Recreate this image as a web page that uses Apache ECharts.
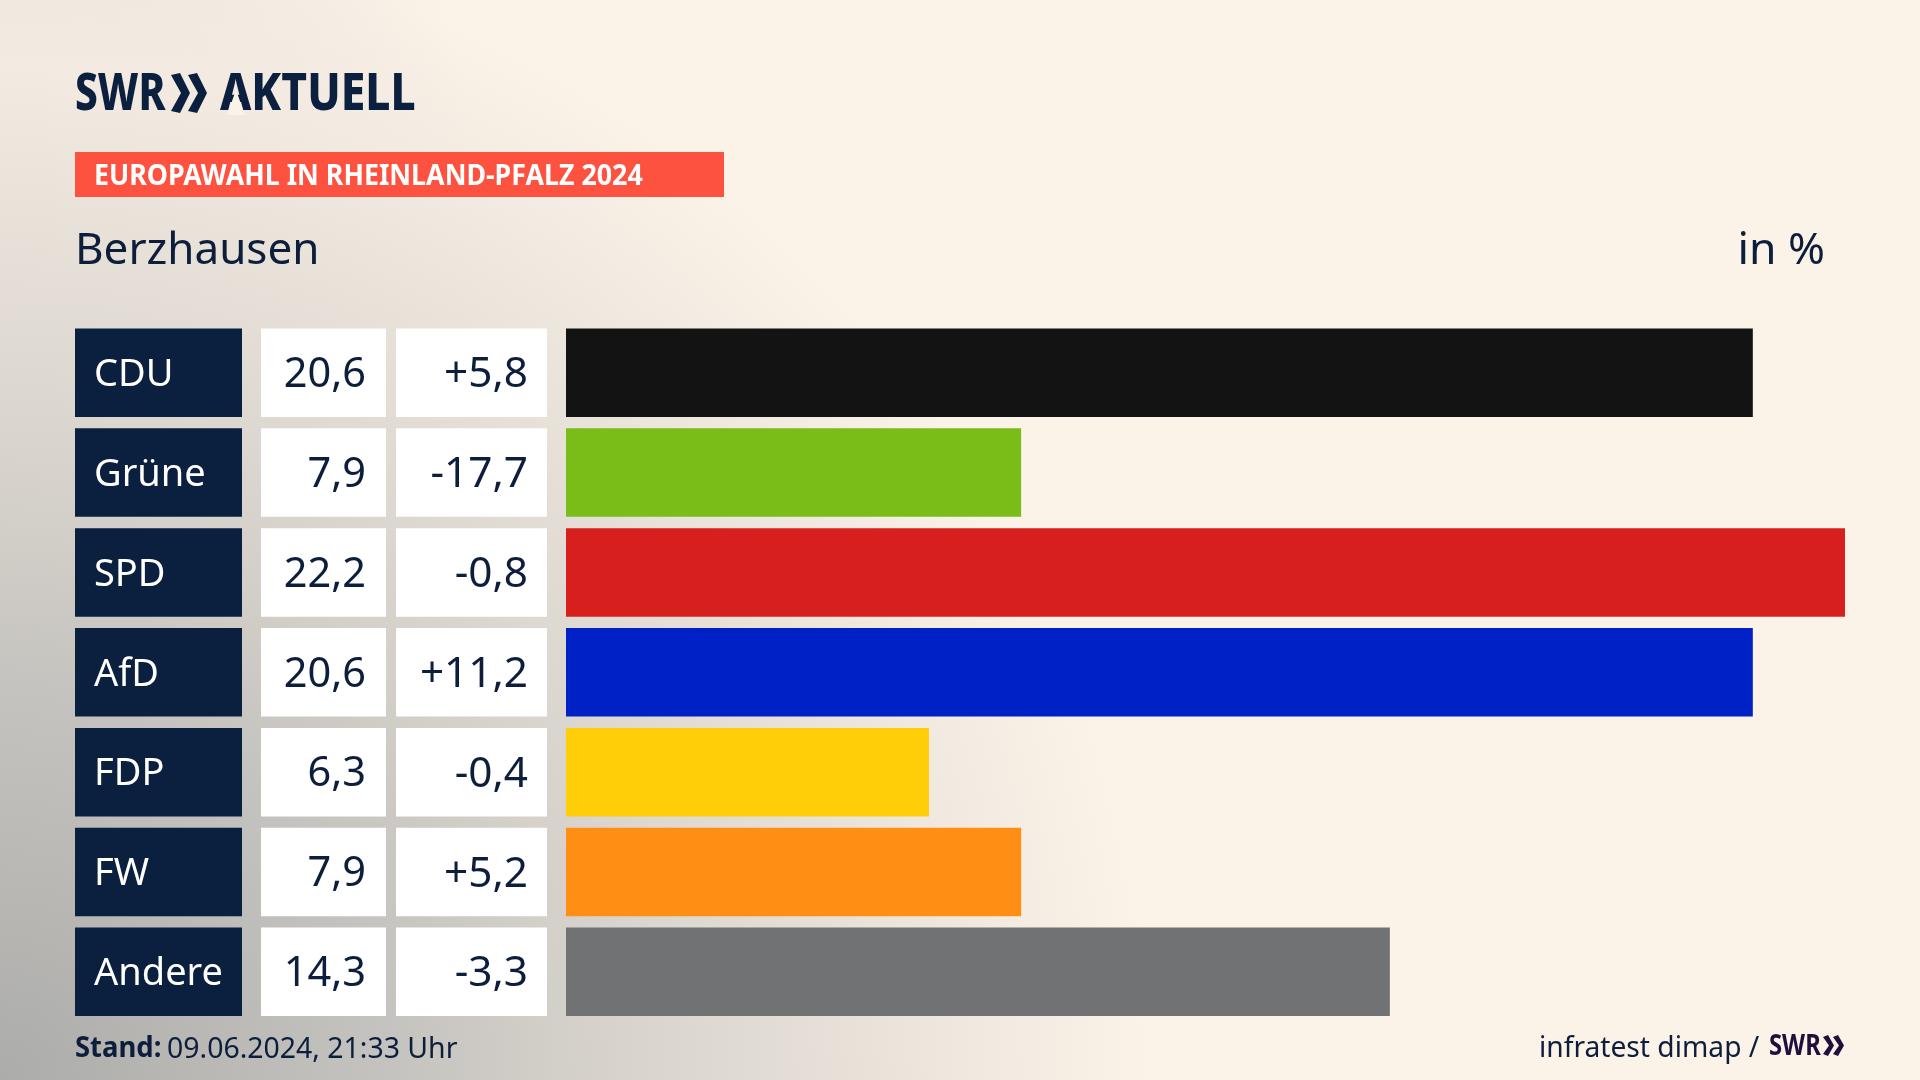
<!DOCTYPE html>
<html><head><meta charset="utf-8">
<script src="https://cdn.jsdelivr.net/npm/echarts@6/dist/echarts.min.js"></script>
<style>
html,body{margin:0;padding:0;width:1920px;height:1080px;overflow:hidden;background-color:#fbf2e8;
background-image:radial-gradient(circle 1150px at 0 1080px,#acacaa 0%,#c5c3bf 34%,#d6d2cb 52%,#e4ded6 70%,#f3ebe1 88%,rgba(251,242,232,0) 100%),radial-gradient(ellipse 480px 850px at 0 300px,#e6e0d8 0%,rgba(251,242,232,0) 100%);}
#c{width:1920px;height:1080px;}
</style></head><body><div id="c"></div>
<script>
const parties=['CDU','Grüne','SPD','AfD','FDP','FW','Andere'];
const shares=[20.6,7.9,22.2,20.6,6.3,7.9,14.3];
const changes=[5.8,-17.7,-0.8,11.2,-0.4,5.2,-3.3];
const partyColors=['#131313','#7abd19','#d7201e','#0021c6','#ffce09','#ff8f14','#717274'];
const NAVY='#0b1f3f', TXT='#0c1e3c', FONT='"Noto Sans"';
const fmt=v=>v.toFixed(1).replace('.',',');
const fmtD=v=>(v>0?'+':'')+fmt(v);
const chev=(x,y,w,h,t,fill)=>({type:'polygon',shape:{points:[[x,y+2],[x+t,y],[x+w,y+h/2],[x+t,y+h],[x,y+h-2],[x+w-t,y+h/2]]},style:{fill}});
const txt=(x,y,text,size,fill,o={})=>({type:'text',x,y,scaleX:o.sx||1,style:{text,fontFamily:FONT,fontSize:size,fontWeight:o.w||400,fill,textAlign:o.a||'left',textVerticalAlign:'middle',textBaseline:'middle'}});
const chart=echarts.init(document.getElementById('c'),null,{renderer:'canvas'});
chart.setOption({
 animation:false,
 grid:{left:566,right:75,top:322.8,height:699,containLabel:false},
 xAxis:{type:'value',min:0,max:22.2,show:false},
 yAxis:{type:'category',inverse:true,data:parties,show:false},
 series:[
 {type:'bar',barWidth:88.5,data:shares.map((v,i)=>({value:v,itemStyle:{color:partyColors[i]}})),silent:true},
 {type:'custom',clip:false,silent:true,data:parties.map((p,i)=>i),encode:{y:0},
  renderItem(params,api){
   const i=api.value(0); const cy=api.coord([0,i])[1]; const h=88.5; const y=cy-h/2;
   return {type:'group',children:[
    {type:'rect',shape:{x:75,y,width:167,height:h},style:{fill:NAVY}},
    {type:'rect',shape:{x:261,y,width:125,height:h},style:{fill:'#fff'}},
    {type:'rect',shape:{x:396,y,width:151,height:h},style:{fill:'#fff'}},
    {type:'text',x:94,y:cy+2.5,style:{text:parties[i],fontFamily:FONT,fontSize:38,fill:'#fff',textAlign:'left',textVerticalAlign:'middle'}},
    {type:'text',x:366,y:cy+2.5,style:{text:fmt(shares[i]),fontFamily:FONT,fontSize:41.5,fill:TXT,textAlign:'right',textVerticalAlign:'middle'}},
    {type:'text',x:528,y:cy+2.5,style:{text:fmtD(changes[i]),fontFamily:FONT,fontSize:42.3,fill:TXT,textAlign:'right',textVerticalAlign:'middle'}}
   ]};
  }}
 ],
 graphic:{elements:[
  txt(75,95,'SWR',52,NAVY,{w:800,sx:0.78}),
  chev(171,73,19,40,9,NAVY),chev(188,73,19,40,9,NAVY),
  txt(220,95,'AKTUELL',52,NAVY,{w:800,sx:0.852}),
  {type:'polygon',shape:{points:[[236,90],[245,115],[227,115]]},style:{fill:'#fbf2e8'}},
  {type:'rect',shape:{x:75,y:152,width:649,height:45},style:{fill:'#fe5240'}},
  txt(94,177.5,'EUROPAWAHL IN RHEINLAND-PFALZ 2024',28,'#fff',{w:700,sx:0.957}),
  txt(75,251.5,'Berzhausen',44,TXT),
  txt(1825,251.5,'in %',44.5,TXT,{a:'right'}),
  txt(75,1049.5,'Stand:',28,TXT,{w:700,sx:0.98}),
  txt(167,1049.5,'09.06.2024, 21:33 Uhr',29,TXT,{sx:0.98}),
  txt(1539,1048.5,'infratest dimap /',28.2,TXT),
  txt(1769,1047.5,'SWR',28,'#1e0f3d',{w:700,sx:0.85}),
  chev(1823,1035,11,21,5,'#1e0f3d'),chev(1833,1035,11,21,5,'#1e0f3d')
 ]}
});
</script></body></html>
